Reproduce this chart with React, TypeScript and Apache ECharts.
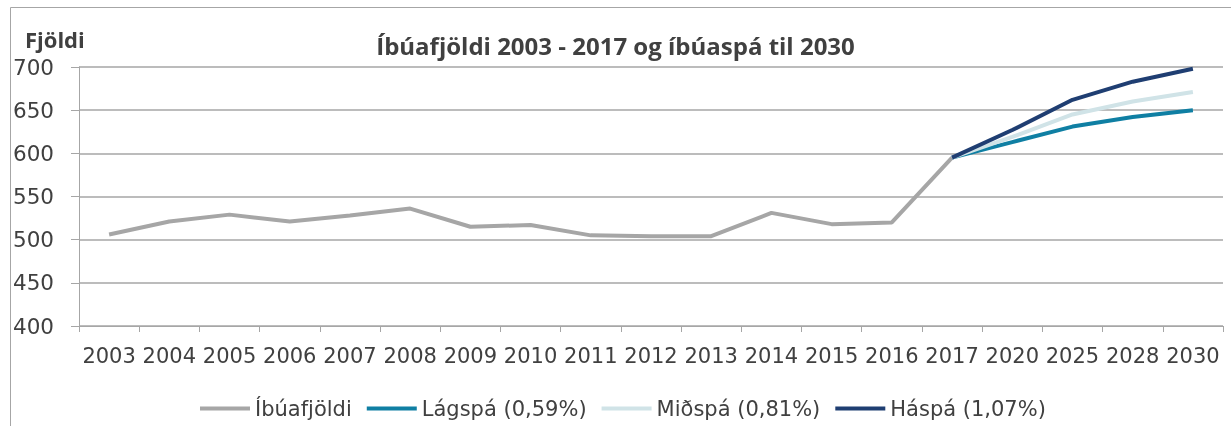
import React, { useEffect, useRef } from "react";
import * as echarts from "echarts";

const categories = ["2003","2004","2005","2006","2007","2008","2009","2010","2011","2012","2013","2014","2015","2016","2017","2020","2025","2028","2030"];
const ibuafjoldi = [506, 521, 529, 521, 528, 536, 515, 517, 505, 504, 504, 531, 518, 520, 595, null, null, null, null];
const lagspa = [null, null, null, null, null, null, null, null, null, null, null, null, null, null, 595, 613, 631, 642, 650];
const midspa = [null, null, null, null, null, null, null, null, null, null, null, null, null, null, 595, 619, 645, 660, 671];
const haspa = [null, null, null, null, null, null, null, null, null, null, null, null, null, null, 595, 627, 662, 683, 698];

const FONT = "DejaVu Sans";
const BOLD_FONT = "Open Sans";
const TXT = "#404040";
const GRID = "#A6A6A6";

export default function App() {
  const ref = useRef<HTMLDivElement>(null);
  useEffect(() => {
    if (!ref.current) return;
    const chart = echarts.init(ref.current, null, { renderer: "svg" });
    const mk = (name: string, data: any[], color: string) => ({
      name,
      type: "line",
      data,
      symbol: "none",
      lineStyle: { color, width: 4 },
      itemStyle: { color },
      connectNulls: false,
    });
    chart.setOption({
      animation: false,
      textStyle: { fontFamily: FONT },
      graphic: [
        {
          type: "rect",
          shape: { x: 10.5, y: 7.5, width: 1300, height: 500 },
          style: { fill: "none", stroke: "#A6A6A6", lineWidth: 1 },
          silent: true,
        },
        {
          type: "text",
          left: 25,
          top: 28,
          style: { text: "Fjöldi", fontFamily: BOLD_FONT, fontWeight: "bold", fontSize: 22, fill: TXT },
        },
      ],
      title: {
        text: "Íbúafjöldi 2003 - 2017 og íbúaspá til 2030",
        left: "center",
        top: 28,
        textStyle: { fontFamily: BOLD_FONT, fontWeight: "bold", fontSize: 24, color: TXT },
      },
      legend: {
        bottom: 2,
        left: 195,
        icon: "rect",
        itemWidth: 50,
        itemHeight: 4,
        itemGap: 15,
        textStyle: { fontFamily: FONT, fontSize: 21, color: TXT },
        data: ["Íbúafjöldi", "Lágspá (0,59%)", "Miðspá (0,81%)", "Háspá (1,07%)"],
      },
      grid: { left: 79, right: 8, top: 67, bottom: 100, containLabel: false },
      xAxis: {
        type: "category",
        data: categories,
        boundaryGap: true,
        axisLine: { show: true, lineStyle: { color: GRID, width: 1 } },
        axisTick: { show: true, length: 6, lineStyle: { color: GRID }, alignWithLabel: false },
        axisLabel: { color: TXT, fontFamily: FONT, fontSize: 21, margin: 19, interval: 0 },
      },
      yAxis: {
        type: "value",
        min: 400,
        max: 700,
        interval: 50,
        axisLine: { show: true, lineStyle: { color: GRID, width: 1 } },
        axisTick: { show: true, length: 8, lineStyle: { color: GRID } },
        axisLabel: { color: TXT, fontFamily: FONT, fontSize: 21.5, margin: 25 },
        splitLine: { show: true, lineStyle: { color: GRID, width: 1.5 } },
      },
      series: [
        mk("Íbúafjöldi", ibuafjoldi, "#A6A6A6"),
        mk("Lágspá (0,59%)", lagspa, "#0F7FA3"),
        mk("Miðspá (0,81%)", midspa, "#D0E3E7"),
        mk("Háspá (1,07%)", haspa, "#1F3E72"),
      ],
    });
    return () => chart.dispose();
  }, []);
  return <div ref={ref} style={{ position: "fixed", left: 0, top: 0, width: 1231, height: 426 }} />;
}
